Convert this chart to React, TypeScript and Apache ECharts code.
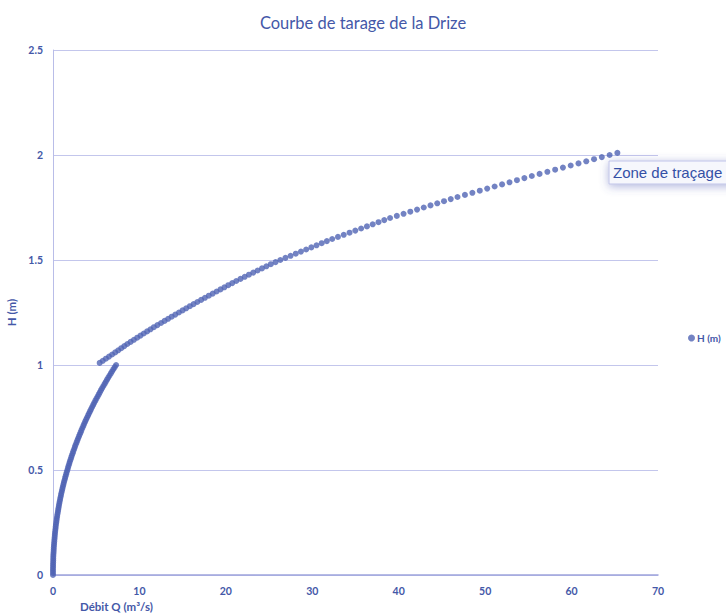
import React, { useEffect, useRef } from "react";
import * as echarts from "echarts";

const titleText = "Courbe de tarage de la Drize";
const xAxisTitle = "Débit Q (m³/s)";
const yAxisTitle = "H (m)";
const seriesName = "H (m)";
const xTicks = [0, 10, 20, 30, 40, 50, 60, 70];
const yTicks = [0, 0.5, 1, 1.5, 2, 2.5];

// Lower branch of the rating curve: [Q (m³/s), H (m)]
const lowerBranch: [number, number][] = [
  [0, 0], [0, 0.01], [0, 0.02], [0, 0.03], [0.01, 0.04], [0.01, 0.05], [0.02, 0.06], [0.03, 0.07], [0.03, 0.08], [0.04, 0.09],
  [0.05, 0.1], [0.07, 0.11], [0.08, 0.12], [0.09, 0.13], [0.11, 0.14], [0.13, 0.15], [0.15, 0.16], [0.17, 0.17], [0.19, 0.18], [0.21, 0.19],
  [0.23, 0.2], [0.26, 0.21], [0.29, 0.22], [0.31, 0.23], [0.34, 0.24], [0.38, 0.25], [0.41, 0.26], [0.44, 0.27], [0.48, 0.28], [0.52, 0.29],
  [0.56, 0.3], [0.6, 0.31], [0.64, 0.32], [0.68, 0.33], [0.73, 0.34], [0.77, 0.35], [0.82, 0.36], [0.87, 0.37], [0.92, 0.38], [0.97, 0.39],
  [1.03, 0.4], [1.08, 0.41], [1.14, 0.42], [1.2, 0.43], [1.26, 0.44], [1.32, 0.45], [1.39, 0.46], [1.45, 0.47], [1.52, 0.48], [1.59, 0.49],
  [1.66, 0.5], [1.73, 0.51], [1.8, 0.52], [1.88, 0.53], [1.95, 0.54], [2.03, 0.55], [2.11, 0.56], [2.19, 0.57], [2.28, 0.58], [2.36, 0.59],
  [2.45, 0.6], [2.53, 0.61], [2.62, 0.62], [2.72, 0.63], [2.81, 0.64], [2.9, 0.65], [3.0, 0.66], [3.1, 0.67], [3.2, 0.68], [3.3, 0.69],
  [3.4, 0.7], [3.51, 0.71], [3.61, 0.72], [3.72, 0.73], [3.83, 0.74], [3.94, 0.75], [4.06, 0.76], [4.17, 0.77], [4.29, 0.78], [4.41, 0.79],
  [4.53, 0.8], [4.65, 0.81], [4.77, 0.82], [4.9, 0.83], [5.03, 0.84], [5.16, 0.85], [5.29, 0.86], [5.42, 0.87], [5.55, 0.88], [5.69, 0.89],
  [5.83, 0.9], [5.97, 0.91], [6.11, 0.92], [6.25, 0.93], [6.4, 0.94], [6.54, 0.95], [6.69, 0.96], [6.84, 0.97], [6.99, 0.98], [7.15, 0.99],
  [7.3, 1.0],
];

// Upper branch of the rating curve: [Q (m³/s), H (m)]
const upperBranch: [number, number][] = [
  [5.4, 1.01], [5.76, 1.02], [6.12, 1.03], [6.48, 1.04], [6.84, 1.05], [7.2, 1.06], [7.55, 1.07], [7.9, 1.08], [8.25, 1.09], [8.6, 1.1],
  [8.98, 1.11], [9.36, 1.12], [9.74, 1.13], [10.12, 1.14], [10.5, 1.15], [10.89, 1.16], [11.28, 1.17], [11.67, 1.18], [12.08, 1.19], [12.5, 1.2],
  [12.91, 1.21], [13.32, 1.22], [13.73, 1.23], [14.15, 1.24], [14.57, 1.25], [14.99, 1.26], [15.41, 1.27], [15.84, 1.28], [16.27, 1.29], [16.7, 1.3],
  [17.14, 1.31], [17.58, 1.32], [18.03, 1.33], [18.48, 1.34], [18.93, 1.35], [19.38, 1.36], [19.83, 1.37], [20.28, 1.38], [20.74, 1.39], [21.2, 1.4],
  [21.69, 1.41], [22.18, 1.42], [22.67, 1.43], [23.17, 1.44], [23.67, 1.45], [24.18, 1.46], [24.69, 1.47], [25.2, 1.48], [25.75, 1.49], [26.3, 1.5],
  [26.89, 1.51], [27.49, 1.52], [28.09, 1.53], [28.69, 1.54], [29.29, 1.55], [29.89, 1.56], [30.49, 1.57], [31.09, 1.58], [31.69, 1.59], [32.3, 1.6],
  [32.97, 1.61], [33.64, 1.62], [34.31, 1.63], [34.98, 1.64], [35.65, 1.65], [36.32, 1.66], [36.99, 1.67], [37.66, 1.68], [38.33, 1.69], [39.0, 1.7],
  [39.78, 1.71], [40.56, 1.72], [41.34, 1.73], [42.12, 1.74], [42.9, 1.75], [43.68, 1.76], [44.46, 1.77], [45.24, 1.78], [46.02, 1.79], [46.8, 1.8],
  [47.66, 1.81], [48.52, 1.82], [49.38, 1.83], [50.24, 1.84], [51.1, 1.85], [51.96, 1.86], [52.82, 1.87], [53.68, 1.88], [54.54, 1.89], [55.4, 1.9],
  [56.3, 1.91], [57.2, 1.92], [58.1, 1.93], [59.0, 1.94], [59.9, 1.95], [60.8, 1.96], [61.7, 1.97], [62.6, 1.98], [63.5, 1.99], [64.4, 2.0],
  [65.3, 2.01],
];

const zoneLabel = "Zone de traçage";

export default function App() {
  const ref = useRef<HTMLDivElement>(null);

  useEffect(() => {
    if (!ref.current) return;
    const chart = echarts.init(ref.current, undefined, { renderer: "svg" });
    const blue = "#4458a8";
    const font = "Lato, 'Noto Sans', sans-serif";
    chart.setOption({
      animation: false,
      backgroundColor: "#ffffff",
      title: {
        text: titleText,
        left: "center",
        top: 9,
        textStyle: { color: blue, fontSize: 16.5, fontWeight: "normal", fontFamily: font },
      },
      legend: {
        data: [{ name: seriesName, icon: "circle" }],
        orient: "vertical",
        left: 683,
        top: 328,
        itemWidth: 7,
        itemHeight: 7,
        itemGap: 4,
        textStyle: { color: blue, fontSize: 10, fontWeight: "bold", fontFamily: font, padding: [0, 0, 0, -3] },
      },
      grid: {
        left: 53,
        right: 68,
        top: 50,
        bottom: 41,
        containLabel: false,
        outerBoundsMode: "none",
      },
      xAxis: {
        type: "value",
        min: xTicks[0],
        max: xTicks[xTicks.length - 1],
        interval: 10,
        axisLine: { show: true, onZero: false, lineStyle: { color: "#9ea4dc", width: 1.5 } },
        axisTick: { show: false },
        splitLine: { show: false },
        axisLabel: { color: blue, fontSize: 10.5, fontWeight: "bold", fontFamily: font, margin: 10 },
      },
      yAxis: {
        type: "value",
        min: yTicks[0],
        max: yTicks[yTicks.length - 1],
        interval: 0.5,
        name: yAxisTitle,
        nameLocation: "middle",
        nameGap: 33,
        nameTextStyle: { color: blue, fontSize: 11.5, fontWeight: "bold", fontFamily: font },
        axisLine: { show: true, lineStyle: { color: "#b9bde8", width: 1 } },
        axisTick: { show: false },
        splitLine: { show: true, lineStyle: { color: "#c3c6ec", width: 1 } },
        axisLabel: { color: blue, fontSize: 10.5, fontWeight: "bold", fontFamily: font, margin: 10 },
      },
      graphic: [
        {
          type: "text",
          left: 80,
          top: 600,
          style: { text: xAxisTitle, fill: blue, fontSize: 11.5, fontWeight: "bold", fontFamily: font },
        },
        {
          type: "rect",
          shape: { x: 609, y: 161, width: 130, height: 23 },
          style: {
            fill: "#f6f7fc",
            stroke: "#c0c4ea",
            lineWidth: 1,
            shadowBlur: 10,
            shadowColor: "rgba(80,90,180,0.45)",
            shadowOffsetX: 0,
            shadowOffsetY: 2,
          },
          z: 100,
        },
        {
          type: "text",
          x: 613,
          y: 172.5,
          style: {
            text: zoneLabel,
            fill: "#3450a6",
            fontSize: 15,
            fontFamily: "'Liberation Sans', Arial, sans-serif",
            verticalAlign: "middle",
          },
          z: 101,
        },
      ],
      series: [
        {
          name: seriesName,
          type: "scatter",
          data: [...lowerBranch, ...upperBranch],
          symbol: "circle",
          symbolSize: 6,
          clip: false,
          itemStyle: { color: "#5064b4" },
        },
      ],
    });
    return () => chart.dispose();
  }, []);

  return (
    <div
      ref={ref}
      style={{ position: "absolute", left: 0, top: 0, width: 726, height: 616 }}
    />
  );
}
